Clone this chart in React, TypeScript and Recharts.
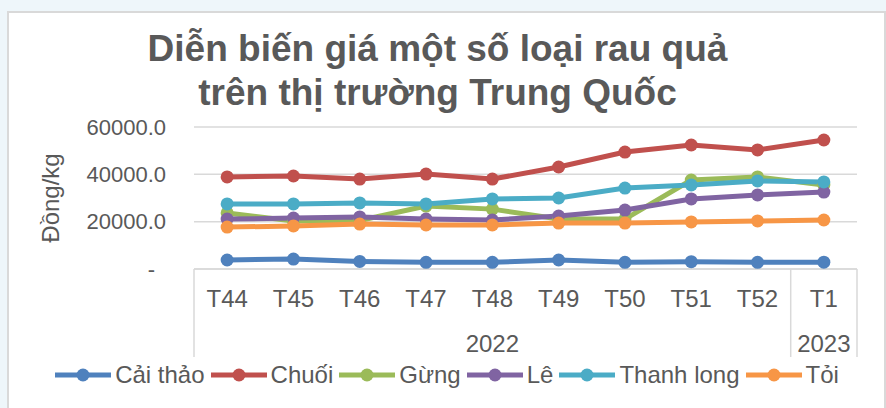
import { CartesianGrid, Line, LineChart, XAxis, YAxis } from "recharts";

const weeks = ["T44", "T45", "T46", "T47", "T48", "T49", "T50", "T51", "T52", "T1"];
const years = ["2022", "2022", "2022", "2022", "2022", "2022", "2022", "2022", "2022", "2023"];

const caiThao = [3800, 4200, 3200, 2800, 2800, 3800, 2800, 3100, 2800, 2900];
const chuoi = [38900, 39300, 38000, 40100, 38000, 43100, 49400, 52400, 50300, 54500];
const gung = [23700, 20300, 20500, 26600, 25300, 21100, 21100, 37600, 38900, 35500];
const le = [21100, 21500, 22000, 21100, 20700, 22400, 24900, 29600, 31300, 32500];
const thanhLong = [27500, 27500, 27900, 27500, 29600, 30000, 34200, 35500, 37200, 36800];
const toi = [17700, 18200, 19000, 18600, 18600, 19400, 19400, 19900, 20300, 20700];

const yTicks = [0, 20000, 40000, 60000];

const series = [
  { key: "caiThao", name: "Cải thảo", color: "#4f81bd", values: caiThao },
  { key: "chuoi", name: "Chuối", color: "#c0504d", values: chuoi },
  { key: "gung", name: "Gừng", color: "#9bbb59", values: gung },
  { key: "le", name: "Lê", color: "#8064a2", values: le },
  { key: "thanhLong", name: "Thanh long", color: "#4bacc6", values: thanhLong },
  { key: "toi", name: "Tỏi", color: "#f79646", values: toi },
];

const data = weeks.map((week, i) => {
  const row: Record<string, string | number> = { week, year: years[i] };
  series.forEach((s) => {
    row[s.key] = s.values[i];
  });
  return row;
});

const W = 886;
const H = 408;
const Y_AXIS_W = 194;
const RIGHT = 29;
const TOP = 127;
const PLOT_H = 142;
const X_AXIS_H = 139;
const BAND = (W - Y_AXIS_W - RIGHT) / weeks.length;

const FONT = '"Liberation Sans", Arial, sans-serif';
const TEXT = "#595959";
const GRID = "#d9d9d9";

function WeekTick(props: any) {
  const { x, y, payload, index } = props;
  const year = years[index];
  const first = index === 0 || years[index - 1] !== year;
  const last = index === weeks.length - 1;
  let groupLen = 0;
  if (first) {
    for (let j = index; j < years.length && years[j] === year; j++) groupLen++;
  }
  return (
    <g>
      <text x={x} y={y + 29} dy="0.355em" textAnchor="middle" fill={TEXT} fontSize={24} fontFamily={FONT}>
        {payload.value}
      </text>
      {first && (
        <>
          <text
            x={x + ((groupLen - 1) / 2) * BAND}
            y={y + 74}
            dy="0.355em"
            textAnchor="middle"
            fill={TEXT}
            fontSize={24}
            fontFamily={FONT}
          >
            {year}
          </text>
          <line x1={x - BAND / 2} x2={x - BAND / 2} y1={y} y2={y + 88} stroke={GRID} strokeWidth={1.5} />
        </>
      )}
      {last && <line x1={x + BAND / 2} x2={x + BAND / 2} y1={y} y2={y + 88} stroke={GRID} strokeWidth={1.5} />}
    </g>
  );
}

function ValueTick(props: any) {
  const { x, y, payload } = props;
  const zero = payload.value === 0;
  return (
    <text
      x={zero ? x - 11 : x}
      y={y}
      dy="0.355em"
      textAnchor="end"
      fill={TEXT}
      fontSize={22}
      fontFamily={FONT}
    >
      {zero ? "-" : Number(payload.value).toFixed(1)}
    </text>
  );
}

export default function App() {
  return (
    <div style={{ position: "fixed", left: 0, top: 0, width: W, height: H, background: "#eef6fa", overflow: "hidden", fontFamily: FONT }}>
      <div
        style={{
          position: "absolute",
          left: 7,
          top: 11,
          width: W - 7,
          height: H,
          background: "#ffffff",
          border: `2px solid ${GRID}`,
          boxSizing: "border-box",
        }}
      />
      <div
        style={{
          position: "absolute",
          left: 0,
          top: 27,
          width: 875,
          textAlign: "center",
          fontSize: 37,
          lineHeight: "44px",
          fontWeight: "bold",
          color: TEXT,
        }}
      >
        Diễn biến giá một số loại rau quả
        <br />
        trên thị trường Trung Quốc
      </div>
      <div style={{ position: "absolute", left: 0, top: 0 }}>
        <LineChart width={W} height={H} data={data} margin={{ top: TOP, right: RIGHT, bottom: H - TOP - PLOT_H - X_AXIS_H, left: 0 }}>
          <CartesianGrid vertical={false} stroke={GRID} strokeWidth={1.5} />
          <XAxis
            dataKey="week"
            interval={0}
            height={X_AXIS_H}
            padding={{ left: BAND / 2, right: BAND / 2 }}
            tickLine={false}
            tickSize={0}
            tickMargin={0}
            axisLine={{ stroke: GRID, strokeWidth: 1.5 }}
            tick={WeekTick}
          />
          <YAxis
            width={Y_AXIS_W}
            domain={[0, 60000]}
            ticks={yTicks}
            axisLine={false}
            tickLine={false}
            tickSize={0}
            tickMargin={28}
            tick={ValueTick}
            label={({ viewBox }: any) => (
              <text
                x={viewBox.x + 50}
                y={viewBox.y + viewBox.height / 2}
                transform={`rotate(-90 ${viewBox.x + 50} ${viewBox.y + viewBox.height / 2})`}
                textAnchor="middle"
                dy="0.355em"
                fill={TEXT}
                fontSize={24}
                fontFamily={FONT}
              >
                Đồng/kg
              </text>
            )}
          />
          {series.map((s) => (
            <Line
              key={s.key}
              type="linear"
              dataKey={s.key}
              name={s.name}
              stroke={s.color}
              strokeWidth={5}
              dot={{ r: 6.5, fill: s.color, stroke: s.color, strokeWidth: 0 }}
              isAnimationActive={false}
            />
          ))}
        </LineChart>
      </div>
      <div
        style={{
          position: "absolute",
          left: 0,
          top: 361,
          width: 900,
          display: "flex",
          justifyContent: "center",
          alignItems: "center",
          height: 28,
        }}
      >
        {series.map((s) => (
          <div key={s.key} style={{ display: "flex", alignItems: "center", marginRight: 6 }}>
            <svg width={56} height={16} style={{ marginRight: 4 }}>
              <line x1={0} x2={56} y1={8} y2={8} stroke={s.color} strokeWidth={5} />
              <circle cx={28} cy={8} r={6.5} fill={s.color} />
            </svg>
            <span style={{ fontSize: 24, color: TEXT, lineHeight: "28px" }}>{s.name}</span>
          </div>
        ))}
      </div>
    </div>
  );
}
